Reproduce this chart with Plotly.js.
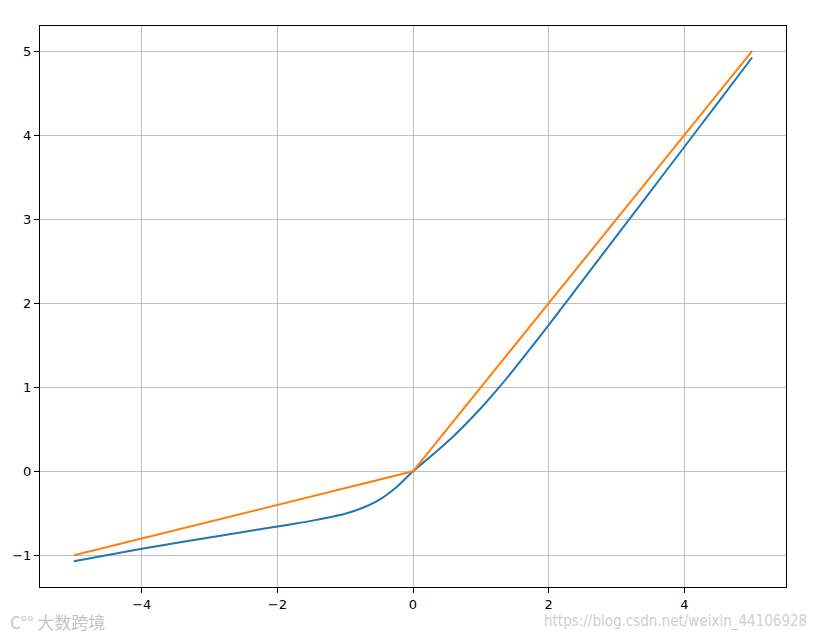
<!DOCTYPE html>
<html>
<head>
<meta charset="utf-8">
<script src="https://cdn.plot.ly/plotly-3.0.1.min.js"></script>
<style>html,body{margin:0;padding:0;background:#fff;}#chart{width:819px;height:636px;}</style>
</head>
<body>
<div id="chart"></div>
<script>
// Blue curve
const blueX = [-5, -4.5, -4, -3.5, -3, -2.5, -2, -1.75, -1.5, -1.25, -1, -0.75, -0.5, -0.25, 0, 0.25, 0.5, 0.75, 1, 1.25, 1.5, 1.75, 2, 2.5, 3, 3.5, 4, 4.5, 5];
const blueY = [-1.07, -0.995, -0.922, -0.853, -0.787, -0.722, -0.658, -0.625, -0.59, -0.55, -0.505, -0.437, -0.34, -0.192, 0, 0.17, 0.345, 0.54, 0.75, 0.98, 1.225, 1.48, 1.74, 2.27, 2.80, 3.33, 3.86, 4.39, 4.925];
// Orange line (piecewise linear)
const orangeX = [-5, 0, 5];
const orangeY = [-1, 0, 5];
const xTicks = [-4, -2, 0, 2, 4];
const yTicks = [-1, 0, 1, 2, 3, 4, 5];

const traces = [
  {x: blueX, y: blueY, type: 'scatter', mode: 'lines', line: {color: '#1f77b4', width: 2, shape: 'spline', smoothing: 1}, hoverinfo: 'none'},
  {x: orangeX, y: orangeY, type: 'scatter', mode: 'lines', line: {color: '#ff7f0e', width: 2}, hoverinfo: 'none'}
];

const axisCommon = {
  showgrid: true, gridcolor: '#b0b0b0', gridwidth: 0.8,
  zeroline: false, showline: true, mirror: true, linecolor: '#000', linewidth: 1,
  ticks: 'outside', ticklen: 5, tickwidth: 1, tickcolor: '#000',
  tickfont: {family: 'DejaVu Sans', size: 13, color: '#000'}
};

const layout = {
  width: 819, height: 636,
  margin: {l: 40, r: 33, t: 26, b: 49},
  paper_bgcolor: '#fff', plot_bgcolor: '#fff',
  showlegend: false,
  xaxis: Object.assign({}, axisCommon, {range: [-5.5, 5.5], tickmode: 'array', tickvals: xTicks}),
  yaxis: Object.assign({}, axisCommon, {range: [-1.377, 5.30], tickmode: 'array', tickvals: yTicks}),
  annotations: [
    {xref: 'paper', yref: 'paper', x: 1.031, y: -0.041, xanchor: 'right', yanchor: 'top', showarrow: false,
     text: 'https://blog.csdn.net/weixin_44106928', font: {family: 'DejaVu Sans Condensed, DejaVu Sans', size: 15, color: '#cfcfcf'}},
    {xref: 'paper', yref: 'paper', x: -0.043, y: -0.036, xanchor: 'left', yanchor: 'top', showarrow: false,
     text: 'C°° 大数跨境', font: {family: 'Noto Sans CJK SC', size: 17, color: '#c4c4c4'}}
  ]
};

Plotly.newPlot('chart', traces, layout, {staticPlot: true, displayModeBar: false});
</script>
</body>
</html>
